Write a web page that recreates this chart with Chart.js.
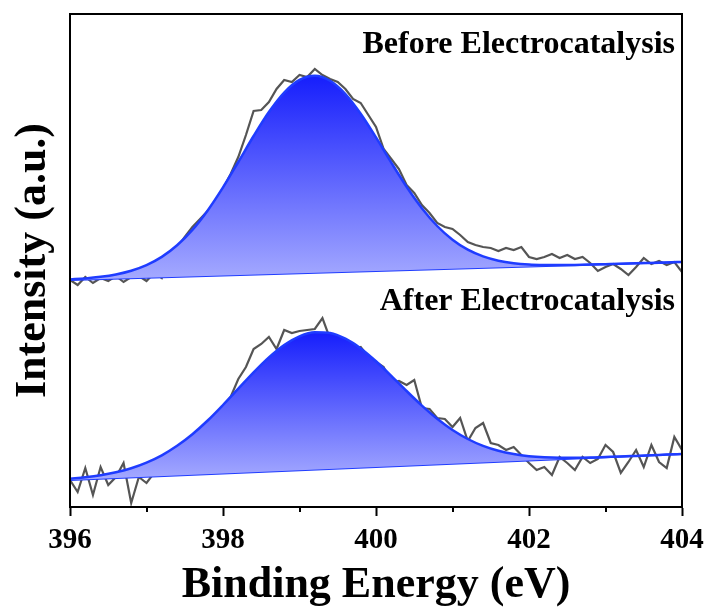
<!DOCTYPE html>
<html>
<head>
<meta charset="utf-8">
<script src="https://cdn.jsdelivr.net/npm/chart.js@4.4.0/dist/chart.umd.min.js"></script>
<style>
  html, body { margin: 0; padding: 0; background: #fff; }
  #wrap { width: 707px; height: 610px; }
</style>
</head>
<body>
<div id="wrap"><canvas id="xpsChart" width="707" height="610"></canvas></div>
<script>
// binding energy grids (eV)
const rawEnergy = Array.from({ length: 81 }, (_, i) => +(396 + i * 0.1).toFixed(1));
const fitEnergy = Array.from({ length: 41 }, (_, i) => +(396 + i * 0.2).toFixed(1));
const baseEnergy = [396, 404];

const xTicks = [396, 398, 400, 402, 404];
const xMinorTicks = [397, 399, 401, 403];
const labelTop = 'Before Electrocatalysis';
const labelBottom = 'After Electrocatalysis';

// before electrocatalysis (arbitrary intensity, offset)
const rawTop = [
    227, 222, 230, 224, 229, 226, 231, 225, 230, 231,
    226, 234, 229, 250, 259, 270, 280, 288, 296, 303,
    318, 333, 350, 372, 396, 397, 405, 418, 427, 425,
    432, 430, 438, 432, 428, 425, 418, 408, 404, 392,
    380, 358, 348, 338, 322, 314, 302, 294, 284, 280,
    278, 272, 265, 262, 260, 259, 256, 259, 257, 260,
    250, 248, 250, 253, 249, 252, 248, 250, 244, 236,
    240, 243, 238, 232, 240, 249, 243, 246, 242, 245,
    235
];
const fitTop = [
    227.6, 228.6, 230.2, 232.6, 236.3, 241.9, 250.1, 261.7, 277.1, 296.6,
    319.6, 345.0, 371.0, 395.0, 414.5, 427.1, 431.2, 426.2, 413.0, 393.3,
    369.6, 344.4, 320.2, 298.8, 281.0, 267.3, 257.3, 250.6, 246.3, 243.8,
    242.5, 242.0, 241.9, 242.1, 242.4, 242.8, 243.2, 243.7, 244.1, 244.6,
    245.0
];
const baseTop = [227, 245];

// after electrocatalysis
const rawBottom = [
    27, 15, 39, 12, 40, 22, 30, 44, 4, 30,
    24, 34, 47, 38, 33, 60, 62, 70, 82, 92,
    100, 110, 128, 140, 158, 163, 170, 158, 177, 174,
    176, 177, 178, 189, 168, 165, 162, 158, 160, 150,
    145, 140, 124, 126, 122, 127, 99, 98, 89, 88,
    80, 89, 66, 79, 84, 64, 62, 57, 60, 52,
    44, 37, 40, 32, 50, 44, 37, 50, 44, 48,
    62, 55, 34, 45, 57, 40, 62, 45, 39, 70,
    57
];
const fitBottom = [
    28.2, 29.7, 31.8, 34.8, 38.8, 44.4, 51.7, 61.2, 72.8, 86.5,
    102.0, 118.3, 134.6, 149.6, 162.0, 170.7, 174.8, 174.0, 168.3, 158.6,
    145.8, 131.2, 116.0, 101.4, 88.2, 77.0, 68.0, 61.1, 56.2, 52.9,
    50.8, 49.7, 49.3, 49.3, 49.5, 50.0, 50.5, 51.1, 51.7, 52.4,
    53.0
];
const baseBottom = [27, 53];

const serif = '"Liberation Serif", "Times New Roman", serif';
const blue = '#1f3cff';
const grey = '#555555';

function toPoints(xs, ys) {
    return xs.map((x, i) => ({ x: x, y: ys[i] }));
}

function peakGradient(fit, base) {
    return function (context) {
        const chart = context.chart;
        if (!chart.chartArea) return 'rgba(80,90,255,0.7)';
        const y = chart.scales.y;
        const g = chart.ctx.createLinearGradient(0, y.getPixelForValue(Math.max(...fit)), 0, y.getPixelForValue(Math.min(...base)));
        g.addColorStop(0, 'rgb(22,30,252)');
        g.addColorStop(1, 'rgb(165,170,255)');
        return g;
    };
}

const framePlugin = {
    id: 'frame',
    afterDatasetsDraw(chart) {
        const ctx = chart.ctx;
        const a = chart.chartArea;
        const x = chart.scales.x;
        const y = chart.scales.y;
        ctx.save();
        ctx.strokeStyle = '#000';
        ctx.lineWidth = 2;
        ctx.strokeRect(a.left, a.top, a.right - a.left, a.bottom - a.top);

        // short minor ticks
        ctx.beginPath();
        xMinorTicks.forEach(v => {
            const px = Math.round(x.getPixelForValue(v));
            ctx.moveTo(px, a.bottom);
            ctx.lineTo(px, a.bottom + 5);
        });
        ctx.stroke();

        ctx.fillStyle = '#000';
        ctx.font = 'bold 32px ' + serif;
        ctx.textAlign = 'right';
        ctx.textBaseline = 'alphabetic';
        ctx.fillText(labelTop, x.getPixelForValue(404) - 7, y.getPixelForValue(454));
        ctx.fillText(labelBottom, x.getPixelForValue(404) - 7, y.getPixelForValue(197));
        ctx.restore();
    }
};

const config = {
    type: 'line',
    data: {
        datasets: [
            { data: toPoints(rawEnergy, rawTop), borderColor: grey, borderWidth: 2.2, order: 3 },
            { data: toPoints(baseEnergy, baseTop), borderColor: blue, borderWidth: 2, order: 2 },
            {
                data: toPoints(fitEnergy, fitTop), borderColor: blue, borderWidth: 2.5, order: 1,
                cubicInterpolationMode: 'monotone', fill: 1, backgroundColor: peakGradient(fitTop, baseTop)
            },
            { data: toPoints(rawEnergy, rawBottom), borderColor: grey, borderWidth: 2.2, order: 3 },
            { data: toPoints(baseEnergy, baseBottom), borderColor: blue, borderWidth: 2, order: 2 },
            {
                data: toPoints(fitEnergy, fitBottom), borderColor: blue, borderWidth: 2.5, order: 1,
                cubicInterpolationMode: 'monotone', fill: 4, backgroundColor: peakGradient(fitBottom, baseBottom)
            }
        ]
    },
    options: {
        responsive: false,
        animation: false,
        elements: { point: { radius: 0 }, line: { tension: 0 } },
        layout: { padding: { top: 14, right: 25, left: 0, bottom: 0 } },
        plugins: { legend: { display: false }, tooltip: { enabled: false } },
        scales: {
            x: {
                type: 'linear',
                min: 396,
                max: 404,
                afterFit: s => { s.height = 103; s.paddingLeft = 0; s.paddingRight = 0; },
                afterBuildTicks: s => { s.ticks = xTicks.map(v => ({ value: v })); },
                ticks: {
                    color: '#000',
                    font: { family: serif, size: 29, weight: 'bold' },
                    padding: 7,
                    maxRotation: 0,
                    autoSkip: false,
                    callback: v => String(v)
                },
                grid: { display: true, drawOnChartArea: false, drawTicks: true, tickLength: 9, tickColor: '#000', tickWidth: 2 },
                border: { display: true, color: '#000', width: 2 },
                title: {
                    display: true,
                    text: 'Binding Energy (eV)',
                    color: '#000',
                    font: { family: serif, size: 44, weight: 'bold', lineHeight: 1 },
                    padding: { top: 0, bottom: 2 }
                }
            },
            y: {
                min: 0,
                max: 493,
                afterFit: s => { s.width = 70; },
                ticks: { display: false },
                grid: { display: false },
                border: { display: true, color: '#000', width: 2 },
                title: {
                    display: true,
                    text: 'Intensity (a.u.)',
                    color: '#000',
                    font: { family: serif, size: 44, weight: 'bold' },
                    padding: { top: 7, bottom: 0 }
                }
            }
        }
    },
    plugins: [framePlugin]
};

const xpsChart = new Chart(document.getElementById('xpsChart'), config);
</script>
</body>
</html>
